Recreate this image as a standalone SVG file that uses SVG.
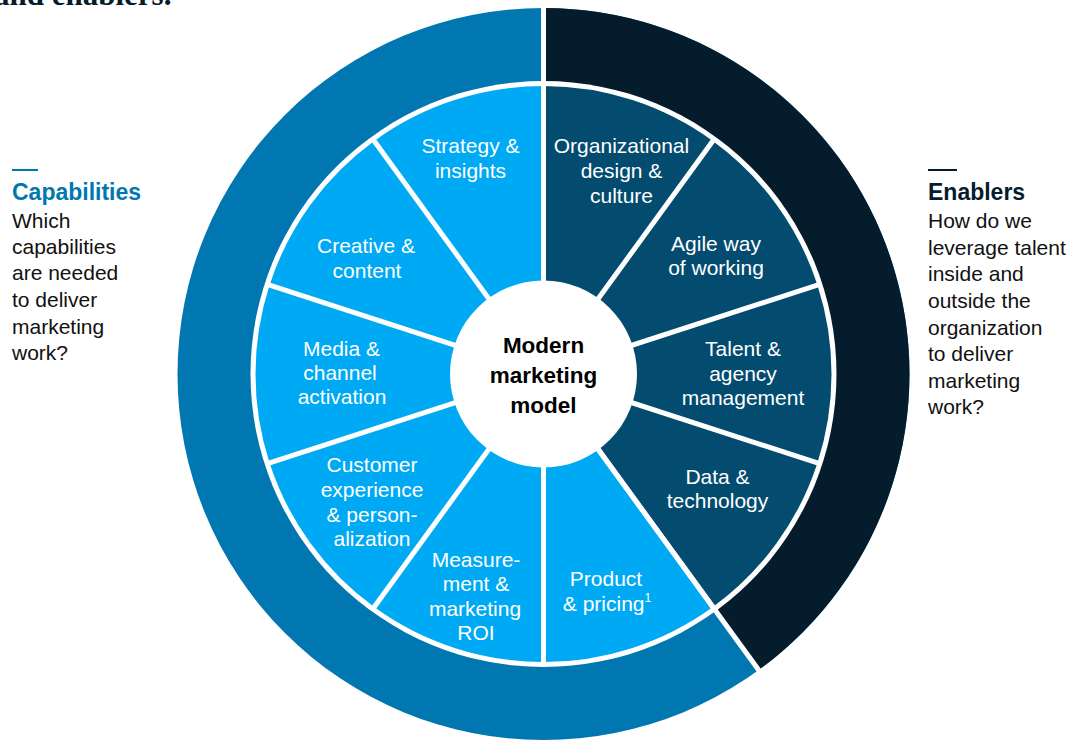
<svg xmlns="http://www.w3.org/2000/svg" width="1079" height="742" viewBox="0 0 1079 742">
<style>
.seg-l{fill:#00A9F4}
.seg-d{fill:#034B6F}
.lbl{font-family:"Liberation Sans",Arial,sans-serif;font-size:21px;fill:#FFFFFF;text-anchor:middle}
.ctr{font-family:"Liberation Sans",Arial,sans-serif;font-size:22.5px;font-weight:bold;fill:#000000;text-anchor:middle}
.hd{font-family:"Liberation Sans",Arial,sans-serif;font-size:23px;font-weight:bold}
.body{font-family:"Liberation Sans",Arial,sans-serif;font-size:21px;fill:#111111}
.div{stroke:#FFFFFF;stroke-width:5;fill:none}
</style>
<rect x="0" y="0" width="1079" height="742" fill="#FFFFFF"/>
<text x="-6" y="5" font-family="'Liberation Serif','Times New Roman',serif" font-weight="bold" font-size="31" fill="#051C2C">and enablers.</text>

<g id="outer-ring">
<circle cx="543.5" cy="374" r="366" fill="#0077B0"/>
<path d="M543.5 374 L543.5 8 A366 366 0 0 1 758.63 670.09 Z" fill="#051C2C"/>
<circle cx="543.5" cy="374" r="293" fill="#FFFFFF"/>
</g>

<g id="seg-organizational"><path class="seg-d" d="M543.5 374 L543.5 86 A288 288 0 0 1 712.79 141.01 Z"/>
<text class="lbl"><tspan x="621.5" y="153">Organizational</tspan><tspan x="621.5" y="178">design &amp;</tspan><tspan x="621.5" y="203">culture</tspan></text></g>
<g id="seg-agile"><path class="seg-d" d="M543.5 374 L712.79 141.01 A288 288 0 0 1 817.42 285.01 Z"/>
<text class="lbl"><tspan x="716" y="251">Agile way</tspan><tspan x="716" y="275">of working</tspan></text></g>
<g id="seg-talent"><path class="seg-d" d="M543.5 374 L817.42 285.01 A288 288 0 0 1 817.42 462.99 Z"/>
<text class="lbl"><tspan x="743" y="356">Talent &amp;</tspan><tspan x="743" y="381">agency</tspan><tspan x="743" y="405">management</tspan></text></g>
<g id="seg-data"><path class="seg-d" d="M543.5 374 L817.42 462.99 A288 288 0 0 1 712.79 606.99 Z"/>
<text class="lbl"><tspan x="717.5" y="484">Data &amp;</tspan><tspan x="717.5" y="508">technology</tspan></text></g>
<g id="seg-product"><path class="seg-l" d="M543.5 374 L712.79 606.99 A288 288 0 0 1 543.5 662 Z"/>
<text class="lbl"><tspan x="606" y="586">Product</tspan><tspan x="607" y="611">&amp; pricing<tspan font-size="12" dy="-9">1</tspan></tspan></text></g>
<g id="seg-measurement"><path class="seg-l" d="M543.5 374 L543.5 662 A288 288 0 0 1 374.21 606.99 Z"/>
<text class="lbl"><tspan x="476" y="567">Measure-</tspan><tspan x="476" y="591">ment &amp;</tspan><tspan x="475" y="616">marketing</tspan><tspan x="476" y="640">ROI</tspan></text></g>
<g id="seg-customer"><path class="seg-l" d="M543.5 374 L374.21 606.99 A288 288 0 0 1 269.58 462.99 Z"/>
<text class="lbl"><tspan x="372" y="472">Customer</tspan><tspan x="372" y="497">experience</tspan><tspan x="372" y="522">&amp; person-</tspan><tspan x="372" y="546">alization</tspan></text></g>
<g id="seg-media"><path class="seg-l" d="M543.5 374 L269.58 462.99 A288 288 0 0 1 269.58 285.01 Z"/>
<text class="lbl"><tspan x="341.5" y="356">Media &amp;</tspan><tspan x="340" y="380">channel</tspan><tspan x="342" y="404">activation</tspan></text></g>
<g id="seg-creative"><path class="seg-l" d="M543.5 374 L269.58 285.01 A288 288 0 0 1 374.21 141.01 Z"/>
<text class="lbl"><tspan x="366" y="253">Creative &amp;</tspan><tspan x="367" y="278">content</tspan></text></g>
<g id="seg-strategy"><path class="seg-l" d="M543.5 374 L374.21 141.01 A288 288 0 0 1 543.5 86 Z"/>
<text class="lbl"><tspan x="470.5" y="153">Strategy &amp;</tspan><tspan x="470.5" y="178">insights</tspan></text></g>

<g id="connectors">
<line class="div" x1="543.5" y1="374" x2="543.5" y2="4"/>
<line class="div" x1="543.5" y1="374" x2="716.14" y2="611.57"/>
<line class="div" x1="543.5" y1="374" x2="761" y2="673.3"/>
<line class="div" x1="543.5" y1="374" x2="715.14" y2="137.78"/>
<line class="div" x1="543.5" y1="374" x2="821.2" y2="283.8"/>
<line class="div" x1="543.5" y1="374" x2="821.2" y2="464.2"/>
<line class="div" x1="543.5" y1="374" x2="543.5" y2="666"/>
<line class="div" x1="543.5" y1="374" x2="371.86" y2="610.22"/>
<line class="div" x1="543.5" y1="374" x2="265.8" y2="464.2"/>
<line class="div" x1="543.5" y1="374" x2="265.8" y2="283.8"/>
<line class="div" x1="543.5" y1="374" x2="371.86" y2="137.78"/>
</g>

<g id="center">
<circle cx="543.5" cy="374" r="93.5" fill="#FFFFFF"/>
<text class="ctr"><tspan x="543.5" y="353">Modern</tspan><tspan x="543.5" y="383">marketing</tspan><tspan x="543.5" y="413">model</tspan></text>
</g>

<g id="capabilities">
<rect x="12" y="169" width="26" height="2" fill="#0077B0"/>
<text class="hd" x="12" y="200" fill="#0077B0">Capabilities</text>
<text class="body"><tspan x="12" y="228">Which</tspan><tspan x="12" y="254">capabilities</tspan><tspan x="12" y="280">are needed</tspan><tspan x="12" y="307">to deliver</tspan><tspan x="12" y="334">marketing</tspan><tspan x="12" y="360">work?</tspan></text>
</g>

<g id="enablers">
<rect x="928" y="169" width="29" height="2" fill="#051C2C"/>
<text class="hd" x="928" y="200" fill="#051C2C">Enablers</text>
<text class="body"><tspan x="928" y="228">How do we</tspan><tspan x="928" y="255">leverage talent</tspan><tspan x="928" y="281">inside and</tspan><tspan x="928" y="308">outside the</tspan><tspan x="928" y="335">organization</tspan><tspan x="928" y="361">to deliver</tspan><tspan x="928" y="388">marketing</tspan><tspan x="928" y="414">work?</tspan></text>
</g>
</svg>
